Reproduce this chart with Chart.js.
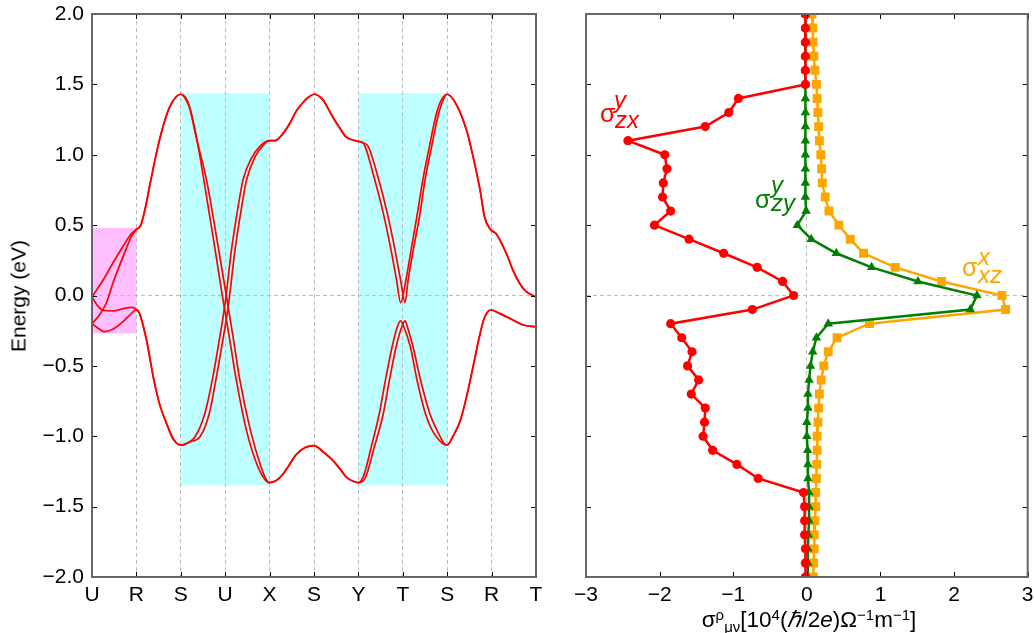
<!DOCTYPE html>
<html><head><meta charset="utf-8">
<script src="https://cdn.jsdelivr.net/npm/chart.js@4.4.0/dist/chart.umd.min.js"></script>
<style>
html,body{margin:0;padding:0;background:#fff;}
#wrap{position:relative;width:1034px;height:633px;overflow:hidden;font-family:'Liberation Sans',Arial,sans-serif;}
#c1{position:absolute;left:0;top:0;}
#c2{position:absolute;left:560px;top:0;}
.t{position:absolute;white-space:nowrap;line-height:1;}
.lab{font-size:24px;}
.lab i{font-style:italic;}
#xt{font-size:22.5px;left:809px;top:609px;transform:translateX(-50%);}
#xt .up{position:relative;top:-0.5em;font-size:15px;}
#xt .dn{position:relative;top:0.3em;font-size:15px;}
#yt{font-size:21px;left:18px;top:296px;transform:translate(-50%,-50%) rotate(-90deg);}
</style></head><body>
<div id="wrap">
<canvas id="c1" width="560" height="633"></canvas>
<canvas id="c2" width="474" height="633"></canvas>
<div class="t" id="yt">Energy (eV)</div>
<div class="t" id="xt">σ<span class="up">ρ</span><span class="dn">μν</span>[10<span class="up">4</span>(<i>ℏ</i>/2<i>e</i>)Ω<span class="up">−1</span>m<span class="up">−1</span>]</div>
<div class="t lab" style="color:#ff0000;left:600px;top:101px;font-size:25px;">σ</div>
<div class="t lab" style="color:#ff0000;left:614px;top:88px;"><i>y</i></div>
<div class="t lab" style="color:#ff0000;left:615px;top:108px;"><i>zx</i></div>
<div class="t lab" style="color:#008000;left:755px;top:187px;font-size:25px;">σ</div>
<div class="t lab" style="color:#008000;left:771px;top:173px;"><i>y</i></div>
<div class="t lab" style="color:#008000;left:771px;top:191px;"><i>zy</i></div>
<div class="t lab" style="color:#ffa500;left:962px;top:255px;font-size:25px;">σ</div>
<div class="t lab" style="color:#ffa500;left:978px;top:245px;"><i>x</i></div>
<div class="t lab" style="color:#ffa500;left:978px;top:263px;"><i>xz</i></div>
</div>
<script>
// ---------- k-path labels ----------
const kLabels = ['U','R','S','U','X','S','Y','T','S','R','T'];

// ---------- band segments: [k, E(eV)] ----------
const UR_1 = [[0,-0.01],[0.25,0.11],[0.47,0.23],[0.7,0.35],[0.89,0.44],[1,0.47]];
const UR_2 = [[0,-0.2],[0.14,-0.15],[0.32,-0.055],[0.47,0.087],[0.7,0.276],[0.89,0.42],[1,0.47]];
const UR_3 = [[0,-0.01],[0.12,-0.07],[0.25,-0.105],[0.47,-0.11],[0.75,-0.09],[0.9,-0.085],[1,-0.1]];
const UR_4 = [[0,-0.2],[0.17,-0.24],[0.28,-0.257],[0.47,-0.24],[0.7,-0.186],[0.89,-0.127],[1,-0.1]];
const RS_up = [[1.1,0.5],[1.2,0.62],[1.3,0.78],[1.45,1.01],[1.6,1.2],[1.75,1.34],[1.9,1.414],[2,1.43]];
const RS_dn = [[1.07,-0.127],[1.23,-0.32],[1.38,-0.58],[1.52,-0.77],[1.68,-0.91],[1.83,-1.02],[2,-1.063]];
const SUX_a = [[2.1,1.41],[2.2,1.34],[2.35,1.13],[2.52,0.82],[2.76,0.35],[2.94,-0.01],[3.1,-0.31],[3.25,-0.6],[3.48,-0.96],[3.74,-1.22],[3.9,-1.31],[4,-1.33]];
const SUX_b = [[2.1,1.4],[2.2,1.33],[2.35,1.12],[2.58,0.82],[2.84,0.35],[3.03,-0.01],[3.18,-0.3],[3.33,-0.6],[3.57,-0.96],[3.81,-1.22],[3.93,-1.31],[4,-1.33]];
const SUX_c = [[2.15,-1.05],[2.33,-1.0],[2.54,-0.84],[2.71,-0.6],[2.86,-0.33],[3.0,-0.05],[3.14,0.32],[3.27,0.59],[3.4,0.82],[3.6,0.98],[3.78,1.06],[4,1.1]];
const SUX_d = [[2.2,-1.04],[2.44,-1.0],[2.64,-0.84],[2.79,-0.6],[2.94,-0.33],[3.08,-0.05],[3.22,0.32],[3.35,0.59],[3.48,0.82],[3.68,0.99],[3.85,1.065],[4,1.1]];
const XSY_up = [[4.12,1.1],[4.3,1.15],[4.45,1.22],[4.6,1.31],[4.75,1.37],[4.88,1.41],[5,1.43],[5.2,1.39],[5.42,1.27],[5.58,1.19],[5.73,1.125],[5.88,1.105],[6,1.095]];
const XSY_dn = [[4.15,-1.315],[4.3,-1.27],[4.45,-1.2],[4.6,-1.13],[4.8,-1.08],[5,-1.066],[5.2,-1.11],[5.42,-1.17],[5.58,-1.23],[5.73,-1.29],[5.88,-1.32],[6,-1.33]];
const YTS_a_up = [[6.08,1.09],[6.15,1.06],[6.37,0.82],[6.56,0.585],[6.72,0.347],[6.86,0.11],[6.95,-0.05],[7.07,0.11],[7.2,0.347],[7.33,0.585],[7.45,0.82],[7.6,1.06],[7.76,1.296],[7.87,1.39],[8,1.43]];
const YTS_b_up = [[6.1,1.085],[6.22,1.06],[6.46,0.82],[6.65,0.585],[6.81,0.347],[6.95,0.11],[7.05,-0.05],[7.12,0.11],[7.25,0.347],[7.39,0.585],[7.5,0.82],[7.65,1.06],[7.81,1.296],[7.91,1.39],[8,1.43]];
const YTS_a_dn = [[6.12,-1.28],[6.29,-1.075],[6.47,-0.84],[6.61,-0.6],[6.76,-0.364],[6.88,-0.22],[6.95,-0.18],[7.02,-0.22],[7.17,-0.364],[7.32,-0.6],[7.51,-0.84],[7.66,-0.957],[7.89,-1.05],[8,-1.063]];
const YTS_b_dn = [[6.15,-1.3],[6.36,-1.075],[6.56,-0.84],[6.7,-0.6],[6.85,-0.364],[6.98,-0.22],[7.05,-0.18],[7.1,-0.22],[7.23,-0.364],[7.4,-0.6],[7.61,-0.84],[7.77,-0.957],[7.93,-1.05],[8,-1.063]];
const SRT_up = [[8.21,1.355],[8.44,1.17],[8.58,0.99],[8.74,0.75],[8.84,0.56],[8.97,0.47],[9.1,0.44],[9.33,0.3],[9.48,0.18],[9.63,0.087],[9.78,0.027],[10,-0.01]];
const SRT_dn = [[8.13,-1.0],[8.3,-0.885],[8.45,-0.7],[8.6,-0.48],[8.72,-0.3],[8.82,-0.174],[8.9,-0.12],[8.98,-0.103],[9.18,-0.127],[9.48,-0.174],[9.71,-0.21],[10,-0.222]];

// shaded k/E windows
const regionK = [[0,1],[2,4],[6,8]];
const regionE = [[-0.27,0.48],[-1.35,1.437],[-1.35,1.437]];

// ---------- conductivity vs energy ----------
const energies = [2.0,1.9,1.8,1.7,1.6,1.5,1.4,1.3,1.2,1.1,1.0,0.9,0.8,0.7,0.6,0.5,0.4,0.3,0.2,0.1,0.0,-0.1,-0.2,-0.3,-0.4,-0.5,-0.6,-0.7,-0.8,-0.9,-1.0,-1.1,-1.2,-1.3,-1.4,-1.5,-1.6,-1.7,-1.8,-1.9,-2.0];
const sigZX = [-0.02,-0.02,-0.02,-0.02,-0.02,-0.02,-0.93,-1.06,-1.38,-2.43,-1.93,-1.90,-1.95,-1.96,-1.85,-2.07,-1.60,-1.13,-0.675,-0.33,-0.18,-0.74,-1.85,-1.70,-1.56,-1.62,-1.47,-1.57,-1.38,-1.39,-1.41,-1.28,-0.95,-0.66,-0.045,-0.03,-0.03,-0.03,-0.02,-0.02,-0.02];
const sigZY = [-0.02,-0.02,-0.02,-0.02,-0.02,-0.02,-0.02,-0.02,-0.02,-0.02,-0.02,-0.02,-0.02,-0.02,-0.01,-0.13,0.06,0.40,0.88,1.51,2.31,2.22,0.29,0.13,0.08,0.05,0.03,0.015,0.015,0.0,0.0,0.01,0.015,0.015,0.03,0.03,0.03,0.02,0.015,0.015,0.01];
const sigXZ = [0.07,0.08,0.085,0.095,0.11,0.13,0.14,0.15,0.16,0.17,0.19,0.20,0.21,0.25,0.30,0.435,0.59,0.77,1.20,1.83,2.65,2.70,0.85,0.41,0.29,0.23,0.195,0.17,0.16,0.15,0.14,0.14,0.135,0.13,0.12,0.12,0.11,0.10,0.10,0.09,0.09];

// ---------- helpers ----------
const FONT = {family:"'Liberation Sans', Arial, sans-serif", size:21};
const minus = v => String(v).replace('-', '\u2212');
const gridAt = (test) => (c) => (c.tick && test(c.tick.value)) ? '#bdbdbd' : 'rgba(0,0,0,0)';
const fixX = (h) => (s) => { s.height = h; s.paddingLeft = 0; s.paddingRight = 0; };
const fixY = (w) => (s) => { s.width = w; s.paddingTop = 0; s.paddingBottom = 0; };

const framePlugin = {
  id:'frame',
  afterDatasetsDraw(chart){
    const {ctx, chartArea:a, scales} = chart;
    const x = scales.x, y = scales.y, L = 5;
    ctx.save();
    ctx.strokeStyle = '#000'; ctx.lineWidth = 1;
    ctx.beginPath();
    y.ticks.forEach(t => { const p = Math.round(y.getPixelForValue(t.value)) + 0.5;
      ctx.moveTo(a.left, p); ctx.lineTo(a.left + L, p); ctx.moveTo(a.right, p); ctx.lineTo(a.right - L, p); });
    x.ticks.forEach(t => { const p = Math.round(x.getPixelForValue(t.value)) + 0.5;
      ctx.moveTo(p, a.bottom); ctx.lineTo(p, a.bottom - L); ctx.moveTo(p, a.top); ctx.lineTo(p, a.top + L); });
    ctx.stroke();
    ctx.strokeStyle = '#666'; ctx.lineWidth = 2;
    ctx.strokeRect(a.left, a.top, a.right - a.left, a.bottom - a.top);
    ctx.restore();
  }
};

const regionPlugin = {
  id:'regions',
  beforeDraw(chart){
    const {ctx, scales:{x, y}} = chart;
    const colors = ['rgb(255,190,255)','rgb(190,255,255)','rgb(190,255,255)'];
    ctx.save();
    regionK.forEach((kr, i) => {
      const x0 = x.getPixelForValue(kr[0]), x1 = x.getPixelForValue(kr[1]);
      const y0 = y.getPixelForValue(regionE[i][1]), y1 = y.getPixelForValue(regionE[i][0]);
      ctx.fillStyle = colors[i];
      ctx.fillRect(x0, y0, x1 - x0, y1 - y0);
    });
    ctx.restore();
  }
};

// ---------- band chart ----------
const bands = [
  [...UR_1, ...RS_up, ...SUX_a, ...XSY_dn, ...YTS_a_dn, ...SRT_dn],
  [...UR_2, ...RS_up, ...SUX_b, ...XSY_dn, ...YTS_b_dn, ...SRT_dn],
  [...UR_3, ...RS_dn, ...SUX_c, ...XSY_up, ...YTS_a_up, ...SRT_up],
  [...UR_4, ...RS_dn, ...SUX_d, ...XSY_up, ...YTS_b_up, ...SRT_up]
];

new Chart(document.getElementById('c1'), {
  type:'line',
  data:{datasets: bands.map(b => ({
    data: b.map(p => ({x:p[0], y:p[1]})),
    borderColor:'#ff0000', borderWidth:1.7, pointRadius:0,
    cubicInterpolationMode:'monotone', fill:false
  }))},
  options:{
    responsive:false, animation:false, events:[],
    layout:{padding:{top:14, right:24, left:0, bottom:0}},
    plugins:{legend:{display:false}, tooltip:{enabled:false}},
    scales:{
      x:{type:'linear', min:0, max:10,
        ticks:{stepSize:1, autoSkip:false, maxRotation:0, padding:6, color:'#000', font:FONT,
          callback:(v) => kLabels[Math.round(v)]},
        grid:{drawTicks:false, color: gridAt(v => v > 0 && v < 10), lineWidth:1},
        border:{display:false, dash:[4,3]},
        afterFit: fixX(56)},
      y:{type:'linear', min:-2, max:2,
        ticks:{stepSize:0.5, padding:8, color:'#000', font:FONT, callback:(v) => minus(v.toFixed(1))},
        grid:{drawTicks:false, color: gridAt(v => Math.abs(v) < 1e-9), lineWidth:1},
        border:{display:false, dash:[4,3]},
        afterFit: fixY(92)}
    }
  },
  plugins:[regionPlugin, framePlugin]
});

// ---------- conductivity chart ----------
const mk = (vals) => energies.map((e, i) => ({x:vals[i], y:e}));
new Chart(document.getElementById('c2'), {
  type:'scatter',
  data:{datasets:[
    {data:mk(sigZX), showLine:true, borderColor:'#ff0000', backgroundColor:'#ff0000', borderWidth:2.5,
     pointStyle:'circle', pointRadius:4.6, pointBorderWidth:0, order:0},
    {data:mk(sigZY), showLine:true, borderColor:'#008000', backgroundColor:'#008000', borderWidth:2.5,
     pointStyle:'triangle', pointRadius:5.5, pointBorderWidth:0, order:1},
    {data:mk(sigXZ), showLine:true, borderColor:'#ffa500', backgroundColor:'#ffa500', borderWidth:2.5,
     pointStyle:'rect', pointRadius:6.3, pointBorderWidth:0, order:2}
  ]},
  options:{
    responsive:false, animation:false, events:[],
    layout:{padding:{top:14, right:6, left:0, bottom:0}},
    plugins:{legend:{display:false}, tooltip:{enabled:false}},
    scales:{
      x:{type:'linear', min:-3, max:3,
        ticks:{stepSize:1, autoSkip:false, maxRotation:0, padding:6, color:'#000', font:FONT,
          callback:(v) => minus(String(v))},
        grid:{drawTicks:false, color: gridAt(v => Math.abs(v) < 1e-9), lineWidth:1},
        border:{display:false, dash:[4,3]},
        afterFit: fixX(56)},
      y:{type:'linear', min:-2, max:2,
        ticks:{stepSize:0.5, display:false},
        grid:{drawTicks:false, color: gridAt(v => Math.abs(v) < 1e-9), lineWidth:1},
        border:{display:false, dash:[4,3]},
        afterFit: fixY(26)}
    }
  },
  plugins:[framePlugin]
});
</script>
</body></html>
